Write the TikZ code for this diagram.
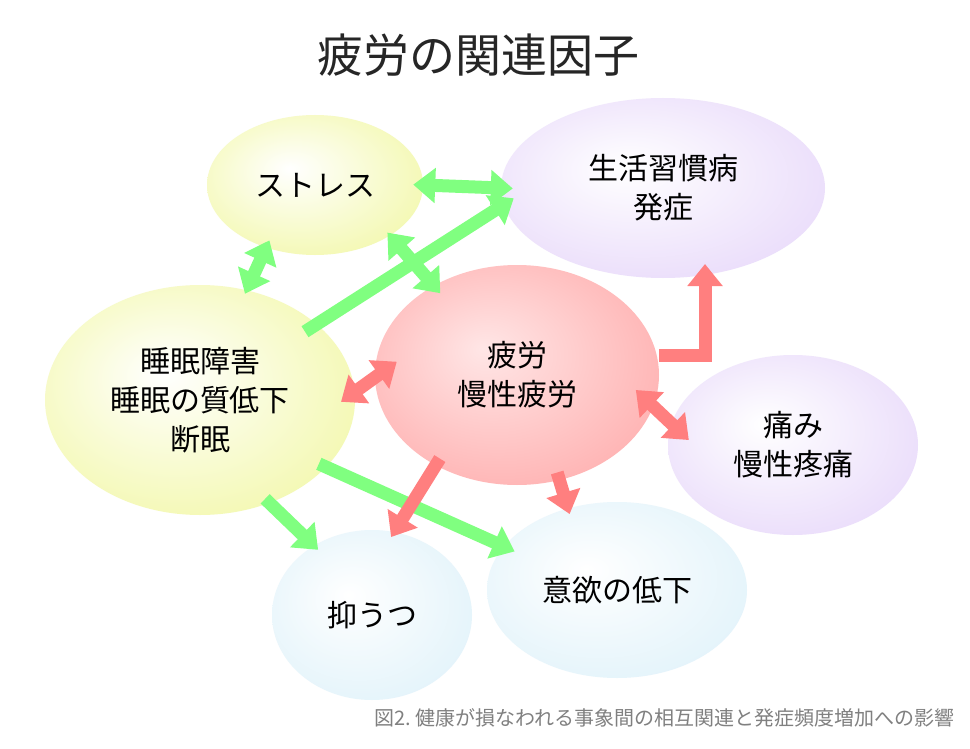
\documentclass[tikz,border=0pt]{standalone}
\usepackage{fontspec}
\setmainfont{Noto Sans CJK JP}
\usetikzlibrary{shapes.geometric,arrows.meta,calc}
\definecolor{gA}{HTML}{80FF80}
\definecolor{rA}{HTML}{FF7F7F}
\definecolor{yelE}{HTML}{EEF58C}
\definecolor{purE}{HTML}{E0CCF8}
\definecolor{bluE}{HTML}{D6EEF8}
\definecolor{redE}{HTML}{FF9A9A}
\definecolor{redC}{HTML}{FFE6E6}
\pgfdeclareradialshading{yelS}{\pgfpoint{-6bp}{6bp}}{color(0bp)=(white); color(45bp)=(yelE); color(50bp)=(yelE)}
\pgfdeclareradialshading{purS}{\pgfpoint{-6bp}{6bp}}{color(0bp)=(white); color(45bp)=(purE); color(50bp)=(purE)}
\pgfdeclareradialshading{redS}{\pgfpoint{-6bp}{6bp}}{color(0bp)=(redC); color(45bp)=(redE); color(50bp)=(redE)}
\pgfdeclareradialshading{bluS}{\pgfpoint{-6bp}{6bp}}{color(0bp)=(white); color(45bp)=(bluE); color(50bp)=(bluE)}
\tikzset{
  bub/.style={ellipse, inner sep=0pt, align=center, font=\fontsize{30}{39}\selectfont},
  garr/.style={draw=gA, line width=13pt, -{Triangle[length=22pt,width=34pt]}},
  gdbl/.style={draw=gA, line width=13pt, {Triangle[length=22pt,width=34pt]}-{Triangle[length=22pt,width=34pt]}},
  rarr/.style={draw=rA, line width=13pt, -{Triangle[length=22pt,width=34pt]}},
  rdbl/.style={draw=rA, line width=13pt, {Triangle[length=22pt,width=34pt]}-{Triangle[length=22pt,width=34pt]}},
}
\begin{document}
\begin{tikzpicture}[x=1pt,y=-1pt]
\useasboundingbox (0,0) rectangle (970,749);
\fill[white] (0,0) rectangle (970,749);
\node[font=\fontsize{46}{52}\selectfont, text=black!85] (title) at (478,55) {疲労の関連因子};
\node[bub, shading=yelS, minimum width=216pt, minimum height=140pt] (str) at (315,185) {ストレス};
\node[bub, shading=purS, minimum width=324pt, minimum height=180pt] (life) at (663,188) {生活習慣病\\発症};
\node[bub, shading=yelS, minimum width=310pt, minimum height=230pt] (slp) at (200,400) {睡眠障害\\睡眠の質低下\\断眠};
\node[bub, shading=purS, minimum width=250pt, minimum height=180pt] (pain) at (793,445) {痛み\\慢性疼痛};
\node[bub, shading=bluS, minimum width=200pt, minimum height=170pt] (dep) at (372,615) {抑うつ};
\node[bub, shading=bluS, minimum width=260pt, minimum height=176pt] (mot) at (617,590) {意欲の低下};
\node[bub, shading=redS, minimum width=284pt, minimum height=220pt] (fat) at (517,375) {疲労\\慢性疲労};
\node[font=\fontsize{20}{22}\selectfont, text=gray, anchor=east] (cap) at (958,718) {図2.\ 健康が損なわれる事象間の相互関連と発症頻度増加への影響};
\draw[gdbl, shorten <=-10pt, shorten >=-12pt] (str.0) -- (life.180);
\draw[gdbl, shorten <=-8pt, shorten >=-4pt] (str.232) -- (slp.67);
\draw[gdbl, shorten <=-4pt, shorten >=-10pt] (str.326) -- (fat.133);
\draw[garr, shorten <=-14pt, shorten >=-12pt] (slp.33) -- (life.186);
\draw[garr, shorten <=-6pt, shorten >=-6pt] (slp.304) -- (dep.130);
\draw[garr, shorten <=-8pt, shorten >=-12pt] (slp.332) -- (mot.159);
\draw[rdbl, shorten <=-17pt, shorten >=-27pt] (slp.3) -- (fat.181);
\draw[rarr] ($(fat.east)+(0,-20)$) -| ($(life.center)+(42,76)$);
\draw[rdbl, shorten <=-24pt, shorten >=-24pt] (fat.347) -- (pain.170);
\draw[rarr, shorten <=-8pt, shorten >=-6pt] (fat.228) -- (dep.75);
\draw[rarr, shorten <=-8pt, shorten >=-6pt] (fat.292) -- (mot.121);
\end{tikzpicture}
\end{document}
